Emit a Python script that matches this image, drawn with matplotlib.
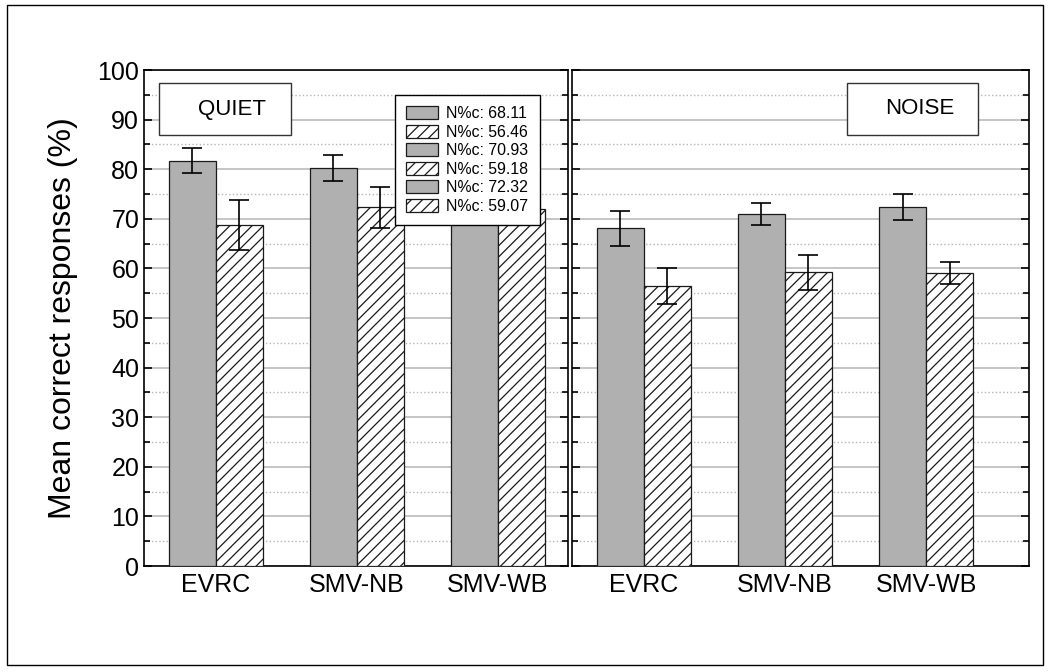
import matplotlib.pyplot as plt
from matplotlib.patches import Rectangle
from matplotlib.ticker import MultipleLocator
import numpy as np

plt.rcParams['font.family'] = ['Liberation Sans', 'DejaVu Sans']
plt.rcParams['hatch.linewidth'] = 0.9

# data
codecs = ['EVRC', 'SMV-NB', 'SMV-WB']

quiet_solid = [81.7, 80.2, 79.0]
quiet_solid_err = [2.5, 2.6, 2.5]
quiet_hatch = [68.8, 72.3, 72.0]
quiet_hatch_err = [5.0, 4.2, 2.5]

noise_solid = [68.11, 70.93, 72.32]
noise_solid_err = [3.5, 2.2, 2.6]
noise_hatch = [56.46, 59.18, 59.07]
noise_hatch_err = [3.6, 3.5, 2.2]

legend_labels = ['N%c: 68.11', 'N%c: 56.46', 'N%c: 70.93',
                 'N%c: 59.18', 'N%c: 72.32', 'N%c: 59.07']

W, H = 1050, 672
fig = plt.figure(figsize=(W / 100, H / 100), dpi=100)
fig.patches.append(Rectangle((7 / W, 1 - 665 / H), 1036 / W, 660 / H,
                             transform=fig.transFigure, fill=False,
                             edgecolor='black', linewidth=1))

ax1 = fig.add_axes([144 / W, 1 - 566 / H, 424 / W, 496 / H])
ax2 = fig.add_axes([572 / W, 1 - 566 / H, 457 / W, 496 / H])

x = np.arange(len(codecs))
w = 1 / 3
solid_col = '#b0b0b0'


def draw(ax, solid, solid_err, hatch, hatch_err):
    b1 = ax.bar(x - w / 2, solid, w, color=solid_col, edgecolor='#1a1a1a',
                linewidth=0.9, zorder=3)
    b2 = ax.bar(x + w / 2, hatch, w, color='white', edgecolor='#1a1a1a',
                hatch='///', linewidth=0.9, zorder=3)
    ax.errorbar(x - w / 2, solid, yerr=solid_err, fmt='none', ecolor='black',
                elinewidth=1.2, capsize=7, capthick=1.2, zorder=4)
    ax.errorbar(x + w / 2, hatch, yerr=hatch_err, fmt='none', ecolor='black',
                elinewidth=1.2, capsize=7, capthick=1.2, zorder=4)
    ax.set_ylim(0, 100)
    ax.yaxis.set_major_locator(MultipleLocator(10))
    ax.yaxis.set_minor_locator(MultipleLocator(5))
    ax.grid(axis='y', which='major', color='#b5b5b5', linewidth=1.1, zorder=0)
    ax.grid(axis='y', which='minor', color='#b5b5b5', linestyle=':',
            linewidth=1.0, zorder=0)
    ax.set_xticks(x)
    ax.set_xticklabels(codecs, fontsize=18)
    ax.tick_params(axis='x', length=0, pad=5)
    ax.tick_params(axis='y', which='both', direction='in', left=True,
                   right=True, width=1.2)
    ax.tick_params(axis='y', which='major', length=6)
    ax.tick_params(axis='y', which='minor', length=4)
    for s in ax.spines.values():
        s.set_linewidth(1.2)
    return b1, b2


draw(ax1, quiet_solid, quiet_solid_err, quiet_hatch, quiet_hatch_err)
hn = draw(ax2, noise_solid, noise_solid_err, noise_hatch, noise_hatch_err)

ax1.set_xlim(-0.51, 2.5)
ax2.set_xlim(-0.51, 2.73)
ax1.tick_params(axis='y', labelsize=18)
ax2.tick_params(axis='y', labelleft=False)
ax1.set_ylabel('Mean correct responses (%)', fontsize=23, labelpad=14)

# condition boxes
for ax, x0, x1, tx, label in [(ax1, 159, 291, 232, 'QUIET'),
                              (ax2, 847, 978, 920, 'NOISE')]:
    ax.add_patch(Rectangle((x0 / W, 1 - 135 / H), (x1 - x0) / W, 52 / H,
                           transform=fig.transFigure, facecolor='white',
                           edgecolor='#333333', linewidth=1, zorder=5))
    ax.text(tx / W, 1 - 109 / H, label, transform=fig.transFigure,
            ha='center', va='center', fontsize=16, zorder=6)

# legend with the noise means
handles = []
for i in range(3):
    handles.append(hn[0][i])
    handles.append(hn[1][i])
leg = ax1.legend(handles, legend_labels, loc='upper left',
                 bbox_to_anchor=(395 / W, 1 - 95 / H),
                 bbox_transform=fig.transFigure, fontsize=11.4,
                 fancybox=False, framealpha=1, edgecolor='black',
                 handlelength=2.0, handleheight=0.9, labelspacing=0.22,
                 borderpad=0.7, handletextpad=0.55, borderaxespad=0)
leg.get_frame().set_linewidth(1)
leg.set_zorder(10)

fig.savefig('out.png', dpi=100)
